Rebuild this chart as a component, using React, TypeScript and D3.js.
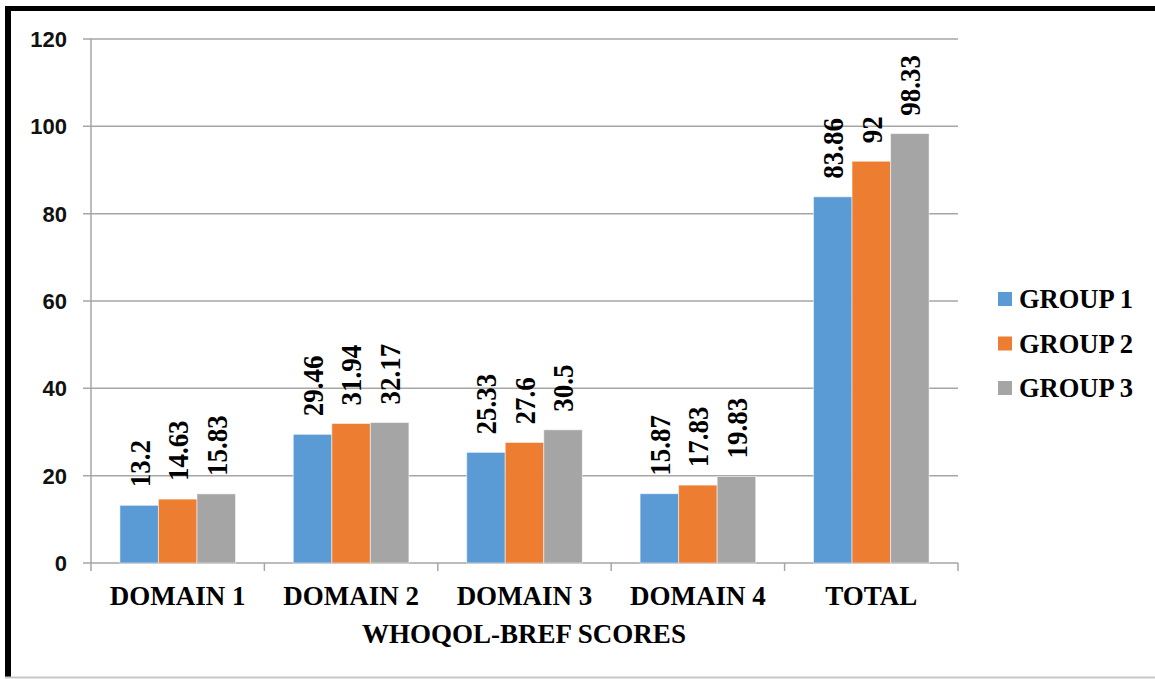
import { useMemo } from 'react';
import * as d3 from 'd3';

const categories = ['DOMAIN 1', 'DOMAIN 2', 'DOMAIN 3', 'DOMAIN 4', 'TOTAL'];
const groups = ['GROUP 1', 'GROUP 2', 'GROUP 3'];
const group1 = [13.2, 29.46, 25.33, 15.87, 83.86];
const group2 = [14.63, 31.94, 27.6, 17.83, 92];
const group3 = [15.83, 32.17, 30.5, 19.83, 98.33];
const yTickValues = [0, 20, 40, 60, 80, 100, 120];
const colors = ['#5B9BD5', '#ED7D31', '#A5A5A5'];

const W = 1155;
const H = 679;
const serif = '"Liberation Serif", "Times New Roman", serif';

const App = () => {
  const series = [group1, group2, group3];

  const x0 = useMemo(() => d3.scaleBand().domain(categories).range([91, 958]).paddingInner(0).paddingOuter(0), []);
  // inner scale for the three bars inside a category
  const x1 = useMemo(() => d3.scaleBand().domain(groups).range([0, x0.bandwidth()]).paddingInner(0).paddingOuter(0.75), [x0]);
  const y = useMemo(() => d3.scaleLinear().domain([0, 120]).range([563, 39]), []);

  return (
    <svg width={W} height={H} style={{ position: 'absolute', left: 0, top: 0, background: '#fff' }}>
      {/* frame */}
      <rect x={5} y={6} width={W - 5} height={5} fill="#000" />
      <rect x={5} y={6} width={6} height={672} fill="#000" />
      <line x1={5} y1={677.5} x2={W} y2={677.5} stroke="#c8c8c8" strokeWidth={2} />

      {/* gridlines + y labels */}
      {yTickValues.map(v => (
        <g key={v} transform={`translate(0, ${y(v)})`}>
          <line x1={83} x2={958} stroke="#A6A6A6" strokeWidth={1.5} />
          <text x={67} dy="0.36em" textAnchor="end" fontFamily='"Liberation Sans", Arial, sans-serif'
            fontWeight="bold" fontSize={22} fill="#111">{v}</text>
        </g>
      ))}

      {/* y axis */}
      <line x1={91} y1={y(120)} x2={91} y2={y(0)} stroke="#A6A6A6" strokeWidth={1.5} />

      {/* x axis ticks */}
      {d3.range(categories.length + 1).map(i => {
        const xx = 91 + i * x0.bandwidth();
        return <line key={i} x1={xx} x2={xx} y1={y(0)} y2={y(0) + 8} stroke="#A6A6A6" strokeWidth={1.5} />;
      })}

      {/* bars */}
      {categories.map((c, ci) => (
        <g key={c} transform={`translate(${x0(c)}, 0)`}>
          {groups.map((g, gi) => {
            const v = series[gi][ci];
            const bx = x1(g) as number;
            return (
              <g key={g}>
                <rect x={bx} y={y(v)} width={x1.bandwidth()} height={y(0) - y(v)} fill={colors[gi]}
                  stroke="#fff" strokeOpacity={0.5} strokeWidth={1} />
                <text transform={`translate(${bx + x1.bandwidth() / 2}, ${y(v) - 18}) rotate(-90) scale(1, 1.1)`}
                  dy="0.35em" fontFamily={serif} fontWeight="bold" fontSize={27} fill="#000">{v}</text>
              </g>
            );
          })}
        </g>
      ))}

      {/* category labels */}
      {categories.map(c => (
        <text key={c} x={(x0(c) as number) + x0.bandwidth() / 2} y={605} textAnchor="middle"
          fontFamily={serif} fontWeight="bold" fontSize={27} fill="#000">{c}</text>
      ))}

      <text x={524} y={643} textAnchor="middle" fontFamily={serif} fontWeight="bold" fontSize={27} fill="#000">
        WHOQOL-BREF SCORES
      </text>

      {/* legend */}
      {groups.map((g, i) => (
        <g key={g} transform={`translate(998, ${299 + i * 44.5})`}>
          <rect x={0} y={-7} width={14} height={14} fill={colors[i]} />
          <text x={21} dy="0.35em" fontFamily={serif} fontWeight="bold" fontSize={26.5} fill="#000">{g}</text>
        </g>
      ))}
    </svg>
  );
};

export default App;
